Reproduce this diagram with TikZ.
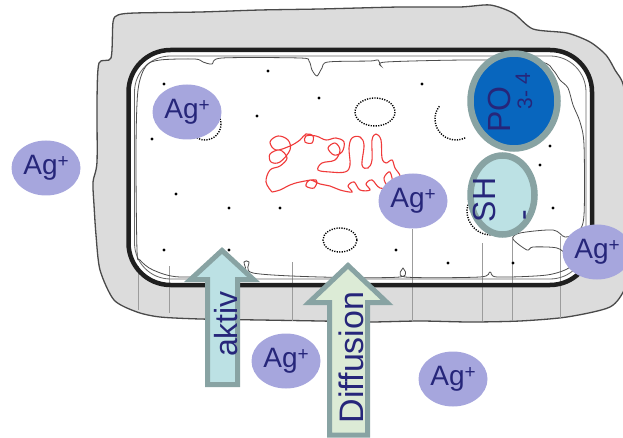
\documentclass[tikz,border=0pt]{standalone}
\usepackage{fontspec}
\setmainfont{Liberation Sans}
\usetikzlibrary{shapes.geometric}

\definecolor{wallfill}{HTML}{DCDCDC}
\definecolor{wallline}{HTML}{4A4A4A}
\definecolor{fibre}{HTML}{9C9C9C}
\definecolor{ionfill}{HTML}{A6A6DD}
\definecolor{ink}{HTML}{26267A}
\definecolor{rim}{HTML}{88A3A3}
\definecolor{phosfill}{HTML}{0866BE}
\definecolor{thiolfill}{HTML}{BCE1E4}
\definecolor{diffill}{HTML}{DCEBD6}
\definecolor{dnared}{HTML}{F03A3A}

% silver ion label
\newcommand\agion{Ag\raisebox{7pt}{\fontsize{19}{19}\selectfont+}}

\begin{document}
\begin{tikzpicture}[x=1pt,y=-1pt,
  ion/.style={ellipse,fill=ionfill,inner sep=0pt,minimum width=69pt,minimum height=55pt,
              text=ink,font=\fontsize{28}{28}\selectfont},
  grain/.style={circle,fill=black,inner sep=0pt,minimum size=3.4pt},
  vesicle/.style={draw=black,line width=1.4pt,dash pattern=on 1.2pt off 1.3pt},
  chemgroup/.style={ellipse,draw=rim,line width=6.5pt,inner sep=0pt},
  turned/.style={rotate=90,anchor=base,inner sep=0pt,text=ink},
  bigtext/.style={font=\fontsize{32}{32}\selectfont},
  smalltext/.style={font=\fontsize{21}{21}\selectfont},
  flowarrow/.style={draw=rim,line width=5pt,line join=miter},
  fibreline/.style={draw=fibre,line width=0.8pt}]

\clip (0,0) rectangle (623,438);

% cell wall
\filldraw[fill=wallfill,draw=wallline,line width=1.3pt]
  plot[smooth cycle,tension=0.45] coordinates {
  (118,15) (135,13) (200,12) (260,10) (320,9) (400,7) (460,7) (490,5)
  (513,13) (533,29) (567,33) (590,42) (606,55) (615,70) (624,88)
  (630,150) (630,260) (625,288) (610,307) (567,317) (520,321) (470,322)
  (420,321) (370,322) (320,321) (260,320) (200,319) (160,317) (137,312)
  (114,300) (100,270) (96,235) (94,205) (93,182) (97,162) (97,100)
  (99,63) (111,58) (113,22)};

% cytoplasm
\fill[white,rounded corners=42pt] (128.5,50) rectangle (592,285);

% fibres crossing the wall
\foreach \x/\a/\b in {138/266/310,169/266/313,292/262/321,412/229/321,
                      482/243/321,512/237/321,560/236/319}
  \draw[fibreline] (\x,\a) -- (\x,\b);

% membrane layers
\draw[line width=4.5pt,draw=black!88,rounded corners=42pt] (128.5,50) rectangle (592,285);
\draw[line width=0.8pt,draw=black!60,rounded corners=36pt] (134.5,56) rectangle (586,279);
\draw[line width=0.8pt,draw=black!70] plot[smooth cycle,tension=0.5] coordinates {
  (137,250) (136,150) (138,90) (146,66) (160,60) (195,59) (203,62) (212,64)
  (222,58) (300,58) (309,61) (312,70) (317,76) (322,68) (328,62) (370,61)
  (378,60) (381,66) (386,62) (470,60) (540,62) (553,70) (560,80) (568,88)
  (573,105) (580,122) (584,145) (584,215) (578,232) (565,237) (553,230)
  (520,233) (513,239) (527,250) (533,247) (557,248) (567,256) (570,267)
  (547,275) (497,277) (490,272) (480,277) (405,277) (403,268) (400,277)
  (320,277) (253,273) (249,262) (244,262) (241,273) (180,277) (153,270)
  (140,260)};

% ribosomes
\foreach \p [count=\i] in {(164,84),(268,71),(319,98),(257,116),(152,139),
    (176,194),(229,208),(280,208),(164,250),(229,250),(422,84),(550,146),
    (540,165),(553,208),(396,250),(448,263),(513,263)}
  \node[grain] (r\i) at \p {};

% vesicles
\draw[vesicle] (375,112) ellipse [x radius=20,y radius=14];
\draw[vesicle] (340,240) ellipse [x radius=17,y radius=12];
\draw[vesicle] (205,124) circle [radius=16];
\draw[vesicle] (456,119) ++(64:21) arc[start angle=64,end angle=221,radius=21];
\draw[vesicle] (491,211) ++(85:24) arc[start angle=85,end angle=195,radius=24];

% nucleoid
\draw[dnared,line width=1.1pt] plot[smooth,tension=0.6] coordinates {
  (272,192) (266,182) (270,170) (280,166) (287,158) (280,150) (270,154)
  (271,162) (280,162) (290,150) (288,140) (278,136) (270,142) (276,150)
  (290,146) (300,140) (306,134) (313,136) (312,143) (305,142) (306,136)
  (316,136) (326,140) (336,138) (344,142) (342,152) (334,155) (328,148)
  (335,143) (340,150) (335,160) (322,163) (318,170) (330,172) (345,172)
  (350,165) (349,148) (352,138) (360,137) (364,145) (362,165) (368,168)
  (372,160) (372,140) (376,134) (381,140) (382,158) (386,163) (392,160)
  (395,168) (400,176) (396,184) (388,186) (384,178) (390,172) (392,186)
  (380,188) (372,180) (366,184) (370,190) (360,190) (354,182) (348,186)
  (352,192) (340,190) (330,186) (320,184) (310,180) (306,186) (314,188)
  (316,180) (300,182) (290,185) (280,190) (272,192)};

% binding groups
\node[chemgroup,fill=thiolfill,minimum width=64pt,minimum height=79pt] (sh) at (502.5,195) {};
\node[chemgroup,fill=phosfill,minimum width=87pt,minimum height=95pt] (po) at (514,101) {};
\node[turned,bigtext] (potext) at (510,109.5) {PO};
\node[turned,smalltext] (pocharge) at (532,100) {3-};
\node[turned,smalltext] (poindex) at (530,79) {4};
\node[turned,bigtext] (shtext) at (495,200) {SH};
\node[turned,bigtext] (shcharge) at (533,215) {-};

% silver ions
\node[ion] (ag1) at (46,168) {\agion};
\node[ion] (ag2) at (187,112) {\agion};
\node[ion] (ag3) at (413,201) {\agion};
\node[ion] (ag4) at (597,252) {\agion};
\node[ion] (ag5) at (286,361) {\agion};
\node[ion] (ag6) at (453,379) {\agion};

% uptake arrows
\draw[flowarrow,fill=thiolfill] (222,250.5) -- (253.5,279.5) -- (237.5,279.5)
  -- (237.5,384.5) -- (207.5,384.5) -- (207.5,279.5) -- (190.5,279.5) -- cycle;
\draw[flowarrow,fill=diffill] (348,265.5) -- (387,302.5) -- (367.5,302.5)
  -- (367.5,435) -- (329.5,435) -- (329.5,302.5) -- (309,302.5) -- cycle;
\node[turned,bigtext] (aktiv) at (237,324) {aktiv};
\node[turned,font=\fontsize{34}{34}\selectfont] (diffusion) at (363,357.5) {Diffusion};

\end{tikzpicture}
\end{document}
